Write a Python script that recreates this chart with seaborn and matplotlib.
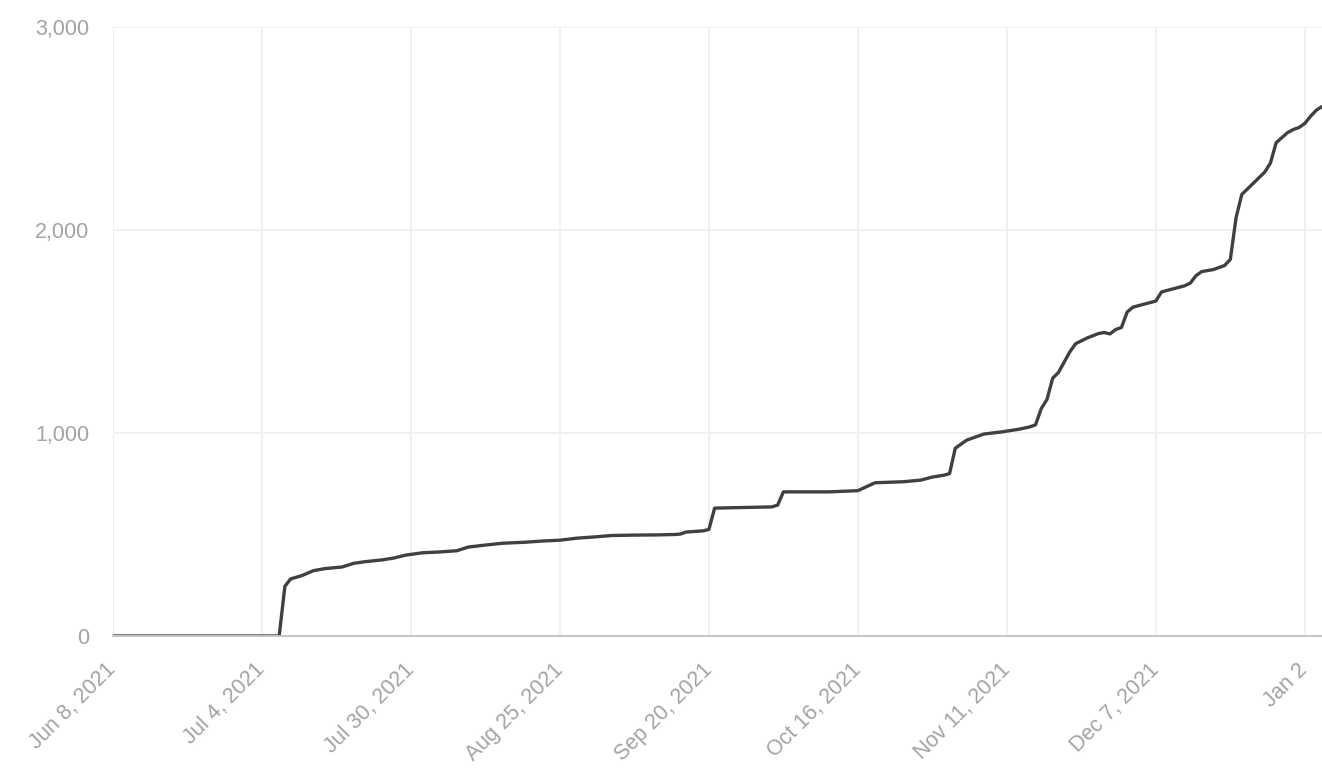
import pandas as pd
import matplotlib
matplotlib.use("Agg")
import matplotlib.pyplot as plt
import matplotlib.ticker as mticker
import seaborn as sns

sns.set_style("white")
plt.rcParams['font.family'] = ['Liberation Sans', 'DejaVu Sans']

start = pd.Timestamp("2021-06-08")

# days since Jun 8, 2021 and the running total
day_offsets = [0, 29, 30, 31, 33, 35, 37, 40, 42, 44, 47, 49, 51, 54, 57, 60, 62, 65,
               68, 72, 75, 78, 81, 84, 87, 91, 95, 98, 99, 100, 103, 104, 105, 110, 115,
               116, 117, 125, 130, 133, 138, 141, 143, 145, 146, 147, 149, 152, 155, 158,
               160, 161, 162, 163, 164, 165, 167, 168, 170, 172, 173, 174, 175, 176, 177,
               178, 180, 182, 183, 185, 187, 188, 189, 190, 192, 193, 194, 195, 196, 197,
               199, 201, 202, 203, 205, 206, 207, 208, 209, 210, 211]
totals = [0, 0, 245, 281, 298, 322, 332, 340, 358, 366, 375, 384, 398, 410, 414, 420, 438, 448,
          457, 462, 468, 472, 482, 488, 495, 497, 498, 500, 502, 512, 518, 525, 630, 633, 636,
          645, 710, 710, 716, 755, 760, 768, 783, 792, 800, 925, 965, 995, 1005, 1018,
          1030, 1040, 1120, 1165, 1270, 1298, 1400, 1440, 1468, 1490, 1495, 1488, 1510, 1520, 1596,
          1620, 1635, 1650, 1695, 1710, 1725, 1738, 1775, 1795, 1805, 1815, 1825, 1855, 2060, 2175,
          2230, 2285, 2330, 2430, 2480, 2495, 2505, 2525, 2560, 2590, 2608]

tick_days = [0, 26, 52, 78, 104, 130, 156, 182, 208]
tick_labels = ["Jun 8, 2021", "Jul 4, 2021", "Jul 30, 2021", "Aug 25, 2021", "Sep 20, 2021",
               "Oct 16, 2021", "Nov 11, 2021", "Dec 7, 2021", "Jan 2"]

df = pd.DataFrame({
    "date": start + pd.to_timedelta(day_offsets, unit="D"),
    "total": totals,
})

fig, ax = plt.subplots(figsize=(13.22, 7.74), dpi=100)
fig.subplots_adjust(left=113/1322, right=1.0, top=1-27/774, bottom=1-636/774)

sns.lineplot(data=df, x="date", y="total", color="#404040", linewidth=2.4, ax=ax)

ax.set_xlim(start, start + pd.Timedelta(days=211))
ax.set_ylim(0, 3000)
ax.set_xticks(start + pd.to_timedelta(tick_days, unit="D"))
ax.set_xticklabels(tick_labels, rotation=45, ha="right", va="center", rotation_mode="anchor")
ax.set_yticks([0, 1000, 2000, 3000])
ax.yaxis.set_major_formatter(mticker.StrMethodFormatter("{x:,.0f}"))

ax.grid(True, color="#f0f0f0", linewidth=1.4)
ax.set_axisbelow(True)
ax.tick_params(axis="both", length=14, width=1.4, color="#f0f0f0",
               labelcolor="#a3a3a3", labelsize=15.5, pad=3)
ax.tick_params(axis="x", pad=8)
ax.yaxis.get_major_ticks()[0].tick1line.set_color("#c4c4c4")

for side in ["top", "right", "left"]:
    ax.spines[side].set_visible(False)
ax.spines["bottom"].set_color("#c4c4c4")
ax.spines["bottom"].set_linewidth(1.4)

ax.set_xlabel("")
ax.set_ylabel("")

fig.savefig("out.png", dpi=100)
